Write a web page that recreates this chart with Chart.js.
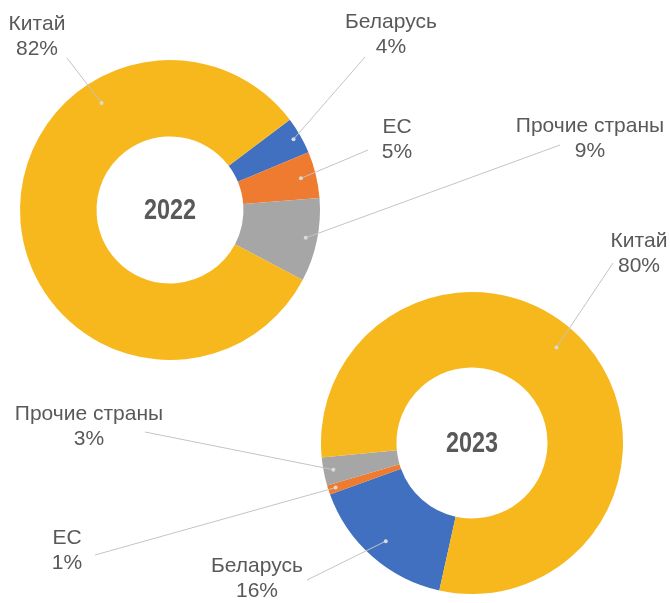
<!DOCTYPE html>
<html>
<head>
<meta charset="utf-8">
<script src="https://cdn.jsdelivr.net/npm/chart.js@4"></script>
<style>
  body { margin: 0; background: #fff; }
  #wrap { position: relative; width: 670px; height: 603px; }
  #wrap canvas { position: absolute; left: 0; top: 0; }
</style>
</head>
<body>
<div id="wrap">
  <canvas id="donut2022" width="670" height="603"></canvas>
  <canvas id="donut2023" width="670" height="603"></canvas>
</div>
<script>
// data
const categories = ["Беларусь", "ЕС", "Прочие страны", "Китай"];
const share2022 = [4, 5, 9, 82];
const share2023 = [16, 1, 3, 80];
const years = ["2022", "2023"];
const sliceColors = ["#4170C1", "#EE7B30", "#A6A6A6", "#F6B81C"];

// where each data label sits (text centre, start of leader line)
// depth = how far into the ring the leader ends, shift = degrees off the slice middle
const labels2022 = [
  { x: 391, y: 22, lx: 365, ly: 57, depth: 0.9 },
  { x: 397, y: 127, lx: 368, ly: 150, depth: 0.8 },
  { x: 590, y: 126, lx: 560, ly: 145, depth: 0.85 },
  { x: 37, y: 24, lx: 67, ly: 58, depth: 0.7, shift: 62 },
];
const labels2023 = [
  { x: 257, y: 566, lx: 307, ly: 580, depth: 0.73 },
  { x: 67, y: 538, lx: 95, ly: 555, depth: 0.9 },
  { x: 89, y: 414, lx: 145, ly: 432, depth: 0.87 },
  { x: 639, y: 241, lx: 613, ly: 263, depth: 0.69, shift: -7 },
];

const textColor = "#595959";
const labelFont = '21px "Liberation Sans", Arial, sans-serif';

// draws year in the hole + data labels with leader lines
function donutLabels(year, layout) {
  return {
    id: "donutLabels",
    afterDraw(chart) {
      const ctx = chart.ctx;
      const meta = chart.getDatasetMeta(0);
      const values = chart.data.datasets[0].data;
      const total = values.reduce((a, b) => a + b, 0);
      const arc0 = meta.data[0];

      ctx.save();
      // year in the middle, condensed look
      ctx.fillStyle = textColor;
      ctx.textAlign = "center";
      ctx.textBaseline = "middle";
      ctx.font = 'bold 30px "Liberation Sans", Arial, sans-serif';
      ctx.translate(arc0.x, arc0.y);
      ctx.scale(0.78, 1);
      ctx.fillText(year, 0, 1);
      ctx.restore();

      meta.data.forEach((arc, i) => {
        const lab = layout[i];
        let ang = (arc.startAngle + arc.endAngle) / 2;
        if (lab.shift) ang += (lab.shift * Math.PI) / 180;
        const r = arc.innerRadius + lab.depth * (arc.outerRadius - arc.innerRadius);
        const px = arc.x + r * Math.cos(ang);
        const py = arc.y + r * Math.sin(ang);

        ctx.save();
        ctx.strokeStyle = "#C4C4C4";
        ctx.lineWidth = 1;
        ctx.beginPath();
        ctx.moveTo(lab.lx, lab.ly);
        ctx.lineTo(px, py);
        ctx.stroke();
        ctx.fillStyle = "#DADADA";
        ctx.beginPath();
        ctx.arc(px, py, 2, 0, Math.PI * 2);
        ctx.fill();

        ctx.fillStyle = textColor;
        ctx.font = labelFont;
        ctx.textAlign = "center";
        ctx.textBaseline = "middle";
        const pct = Math.round((values[i] / total) * 100) + "%";
        ctx.fillText(chart.data.labels[i], lab.x, lab.y);
        ctx.fillText(pct, lab.x, lab.y + 25);
        ctx.restore();
      });
    },
  };
}

function makeDonut(id, values, year, rotation, padding, layout, cutout) {
  return new Chart(document.getElementById(id), {
    type: "doughnut",
    data: {
      labels: categories,
      datasets: [
        {
          data: values,
          backgroundColor: sliceColors,
          borderWidth: 0,
        },
      ],
    },
    options: {
      responsive: false,
      animation: false,
      rotation: rotation,
      cutout: cutout,
      layout: { padding: padding },
      plugins: {
        legend: { display: false },
        tooltip: { enabled: false },
      },
    },
    plugins: [donutLabels(year, layout)],
  });
}

makeDonut("donut2022", share2022, years[0], 53,
  { left: 20, top: 60, right: 350, bottom: 243 }, labels2022, "49%");
makeDonut("donut2023", share2023, years[1], 192.5,
  { left: 321, top: 292, right: 47, bottom: 9 }, labels2023, "50%");
</script>
</body>
</html>
